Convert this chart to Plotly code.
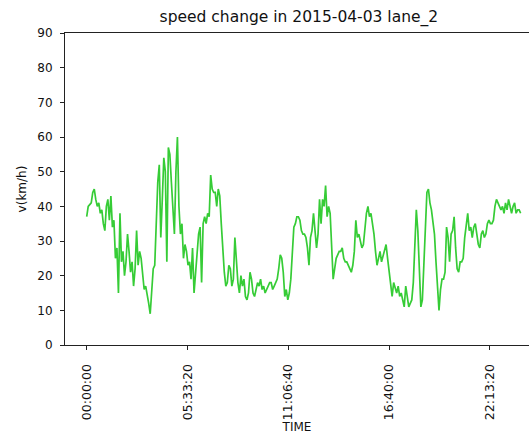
import numpy as np
import pandas as pd
import plotly.graph_objects as go

# 5-minute average speed, lane 2, 2015-04-03 (288 samples)
speed_kmh = [
    37, 40, 40.5, 41, 44, 45, 42, 40, 41, 38, 39, 35, 33, 40, 42, 36, 43, 34, 36, 25,
    28, 15, 38, 24, 27, 20, 24, 32, 27, 21, 24, 17, 22, 33, 23, 27, 25, 20, 16, 17,
    15, 12, 9, 15, 22, 23,
    35, 47, 52, 31, 42, 54, 50, 24, 57, 55, 47, 38, 32, 50, 60, 40, 32, 35, 25, 29,
    27, 23, 24, 19, 28, 15, 21, 25, 32, 34, 18, 35, 37, 35, 38, 37, 49, 45, 44, 44,
    40, 45, 43, 35, 27, 21, 17, 18, 23,
    22, 17, 19, 31, 24, 18, 15, 20, 17, 19, 14, 13, 15, 21, 19, 15, 14, 16, 18, 17,
    19, 16, 17, 15, 16, 17, 18, 18, 16, 17, 18, 19, 22, 26, 25, 21, 14, 16, 13, 15,
    19, 26, 34, 35, 37, 37, 36, 33, 32,
    32, 31, 28, 23, 31, 33, 38, 33, 28, 32, 42, 35, 42, 40, 46, 37, 40, 38, 30, 19,
    22, 25, 26, 27, 27, 28, 25, 24, 24, 23, 22, 21, 23, 27, 36, 31, 32, 30, 28, 29,
    33, 38, 40, 37, 38, 35, 32, 27, 23,
    25, 27, 24, 26, 28, 29, 25, 21, 17, 14, 18, 16, 15, 17, 14, 15, 13, 11, 17, 14,
    11, 12, 13, 18, 29, 39, 33, 20, 11, 13, 24, 36, 44, 45, 41, 39, 35, 32, 24, 17,
    10, 16, 19, 19, 21, 34, 31, 24, 32,
    33, 37, 28, 22, 21, 24, 24, 25, 31, 35, 38, 33, 34, 31, 34, 35, 31, 29, 28, 32,
    33, 31, 32, 35, 36, 35, 35, 36, 40, 42, 41, 40, 39, 40, 38, 41, 39, 42, 40, 38,
    40, 41, 38, 39, 39, 38,
]

day_start = pd.Timestamp("2015-04-03 00:00:00")
sample_step = pd.Timedelta(minutes=5)
times = [day_start + i * sample_step for i in range(len(speed_kmh))]

# ticks every 20000 seconds, as matplotlib placed them
tick_seconds = [0, 20000, 40000, 60000, 80000]
tick_labels = ["00:00:00", "05:33:20", "11:06:40", "16:40:00", "22:13:20"]
tick_times = [day_start + pd.Timedelta(seconds=s) for s in tick_seconds]

y_ticks = list(range(0, 100, 10))

fig = go.Figure()
fig.add_trace(go.Scatter(
    x=times, y=speed_kmh, mode="lines",
    line=dict(color="#36cc36", width=1.7),
    hoverinfo="x+y",
))

font_family = "DejaVu Sans, sans-serif"
axis_line = dict(showline=True, linecolor="#222222", linewidth=1.1, mirror=True,
                 ticks="outside", ticklen=4, tickcolor="#222222", tickwidth=1,
                 showgrid=False, zeroline=False)

fig.update_layout(
    width=529, height=435,
    margin=dict(l=65, r=0, t=33, b=90),
    paper_bgcolor="white", plot_bgcolor="white",
    showlegend=False,
    font=dict(family=font_family, color="#111111", size=12),
    title=dict(
        text="speed change in 2015-04-03 lane_2",
        font=dict(size=15.5, family=font_family, color="#111111"),
        xref="paper", x=0.504, xanchor="center",
        yref="container", y=1 - 17 / 435, yanchor="middle",
    ),
    xaxis=dict(
        **axis_line,
        range=[day_start - pd.Timedelta(seconds=4306),
               day_start + pd.Timedelta(seconds=87757)],
        tickvals=tick_times, ticktext=tick_labels, tickangle=-90,
        tickfont=dict(size=12.5),
        ticklabelstandoff=9,
        title=dict(text="TIME", font=dict(size=12), standoff=2),
    ),
    yaxis=dict(
        **axis_line,
        range=[0, 90],
        tickvals=y_ticks, ticktext=[str(v) for v in y_ticks],
        tickfont=dict(size=12),
        ticklabelstandoff=5,
        title=dict(text="v(km/h)", font=dict(size=12), standoff=8),
    ),
)

fig.write_html("out.html")
